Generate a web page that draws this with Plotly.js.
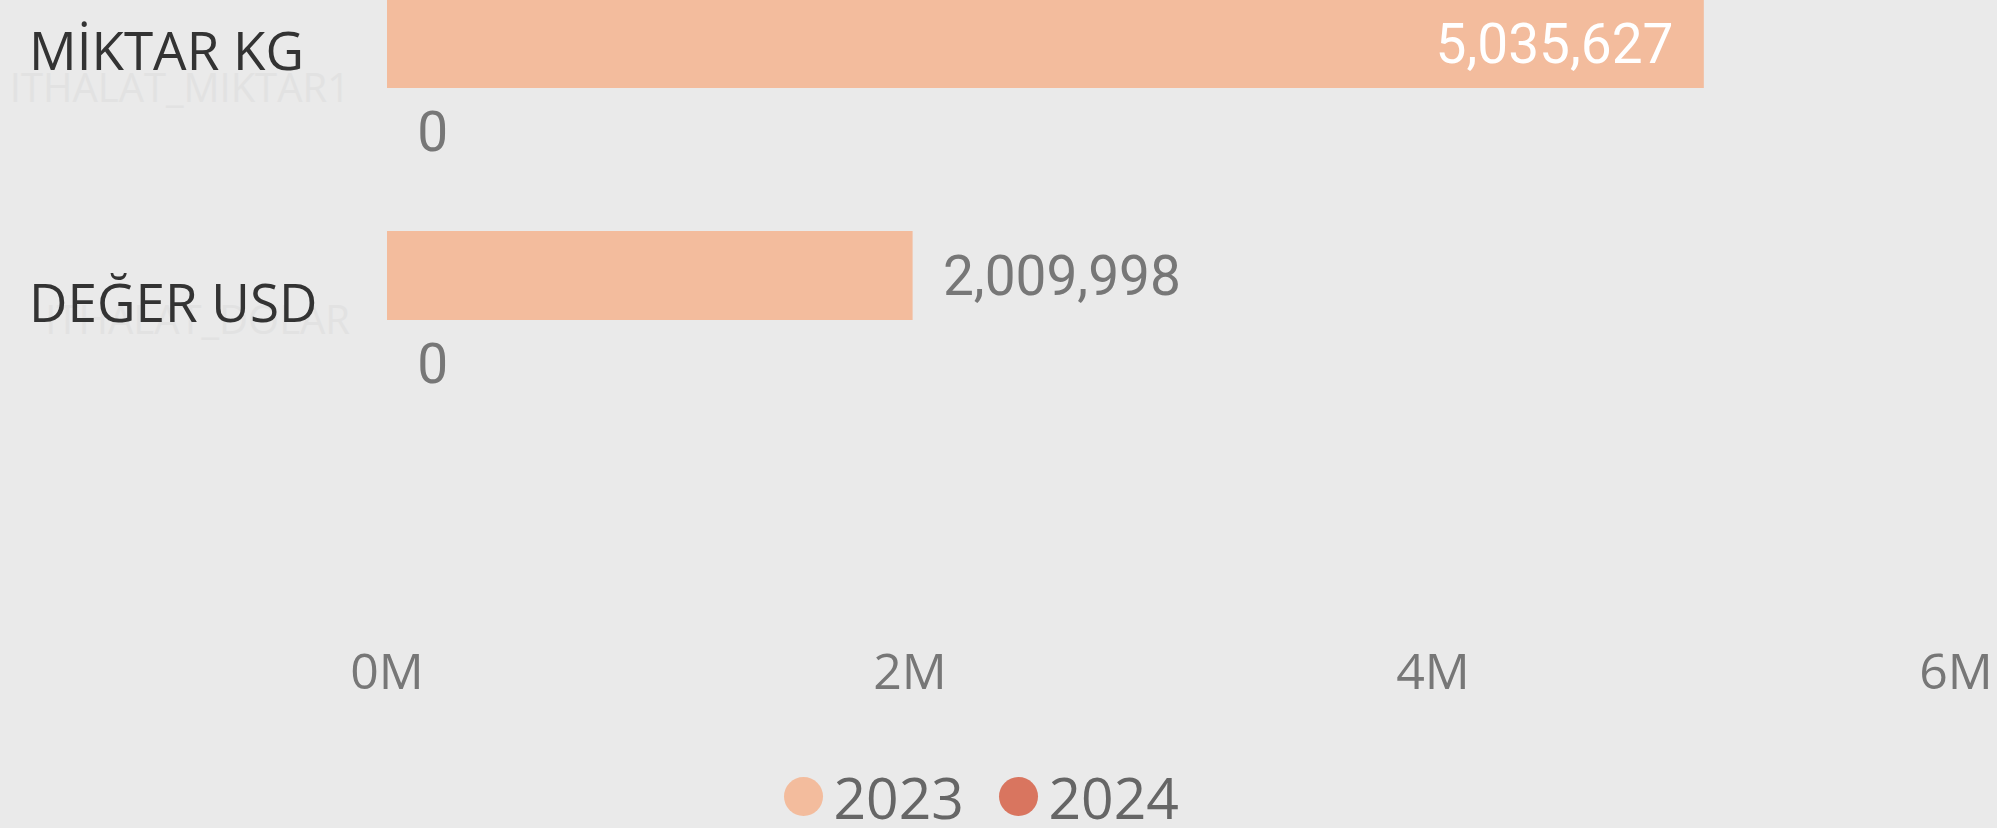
<!DOCTYPE html>
<html>
<head>
<meta charset="utf-8">
<script src="https://cdn.plot.ly/plotly-3.0.1.min.js"></script>
<style>
  html, body { margin: 0; padding: 0; background: #EAEAEA; }
  #chart { width: 1997px; height: 828px; }
</style>
</head>
<body>
<div id="chart"></div>
<script>
// ---- data ----
const categories = ['MİKTAR KG', 'DEĞER USD'];
const fieldNames = ['ITHALAT_MIKTAR1', 'ITHALAT_DOLAR'];
const seriesNames = ['2023', '2024'];
const values2023 = [5035627, 2009998];
const values2024 = [0, 0];
const tickValues = [0, 2000000, 4000000, 6000000];
const tickLabels = ['0M', '2M', '4M', '6M'];

// ---- styles ----
const colors = ['#F3BC9D', '#D9755F'];
const NB = '\u00a0\u00a0';
const numFont = 'Roboto, "DejaVu Sans", sans-serif';
const textFont = '"Open Sans", "Noto Sans", sans-serif';

function barTrace(name, values, color, positions) {
  return {
    type: 'bar',
    orientation: 'h',
    name: name,
    y: categories,
    x: values,
    marker: { color: color, line: { width: 0 } },
    texttemplate: positions.map(p => p === 'inside' ? '%{x:,}' + NB : NB + '%{x:,}'),
    textposition: positions,
    insidetextanchor: 'end',
    constraintext: 'none',
    cliponaxis: false,
    insidetextfont: { family: numFont, size: 55, color: '#FFFFFF' },
    outsidetextfont: { family: numFont, size: 55, color: '#777777' },
    hoverinfo: 'none'
  };
}

const traces = [
  barTrace(seriesNames[0], values2023, colors[0], ['inside', 'outside']),
  barTrace(seriesNames[1], values2024, colors[1], ['outside', 'outside'])
];

const labelShift = [39, 19];
const annotations = categories.map((c, i) => ({
  xref: 'paper', yref: 'y',
  x: -0.2295, y: c,
  xanchor: 'left', yanchor: 'middle',
  yshift: labelShift[i],
  text: c,
  showarrow: false,
  font: { family: textFont, size: 53, color: '#333333' }
}));

const layout = {
  width: 1997, height: 828,
  paper_bgcolor: '#EAEAEA',
  plot_bgcolor: '#EAEAEA',
  margin: { l: 387, r: 41, t: 0, b: 197, pad: 0 },
  barmode: 'group',
  bargap: 0.233,
  bargroupgap: 0,
  showlegend: true,
  legend: {
    orientation: 'h',
    xref: 'container', yref: 'container',
    x: 0.495, y: 0.0375,
    xanchor: 'center', yanchor: 'middle',
    itemwidth: 50,
    entrywidth: 150,
    bgcolor: 'rgba(0,0,0,0)',
    font: { family: textFont, size: 57, color: '#666666' },
    itemclick: false, itemdoubleclick: false
  },
  xaxis: {
    range: [0, 6000000],
    tickvals: tickValues,
    ticktext: tickLabels,
    showgrid: false, zeroline: false, showline: false,
    ticks: '',
    ticklabelstandoff: 7,
    tickfont: { family: textFont, size: 50, color: '#777777' },
    fixedrange: true
  },
  yaxis: {
    type: 'category',
    categoryorder: 'array',
    categoryarray: categories,
    range: [2.3405, -0.3793],
    tickvals: categories,
    ticktext: fieldNames,
    ticks: '',
    ticklabelstandoff: 36,
    showgrid: false, zeroline: false, showline: false,
    tickfont: { family: textFont, size: 40, color: '#E2E2E2' },
    fixedrange: true
  },
  annotations: annotations
};

Plotly.newPlot('chart', traces, layout, { staticPlot: true, responsive: false, displayModeBar: false }).then(gd => {
  const r = 19.5;
  const circle = `M${r},0A${r},${r} 0 1,1 0,-${r}A${r},${r} 0 0,1 ${r},0Z`;
  gd.querySelectorAll('.legend .legendpoints path').forEach(p => {
    p.setAttribute('d', circle);
    p.style.strokeWidth = '0px';
  });
});
</script>
</body>
</html>
